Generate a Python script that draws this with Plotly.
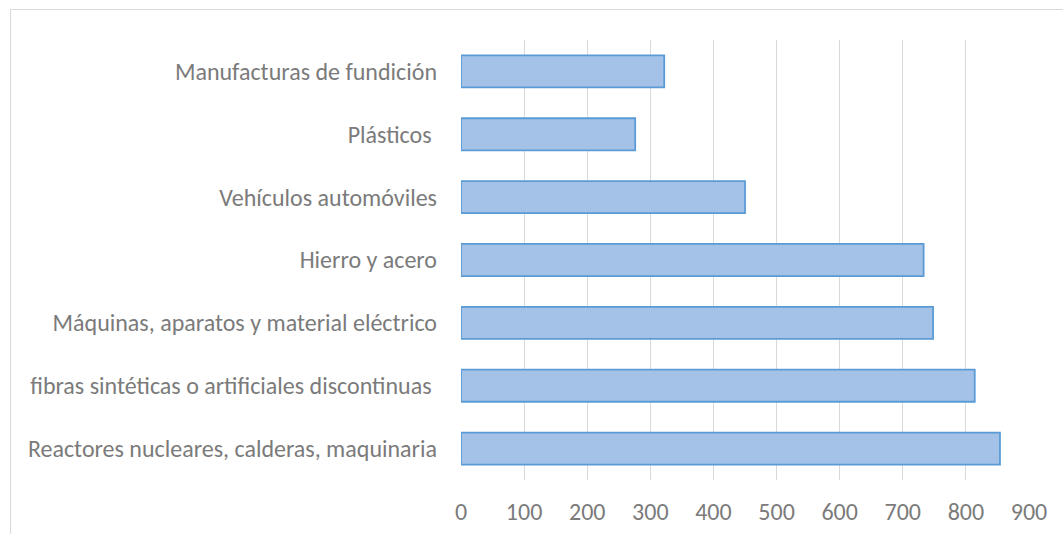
import plotly.graph_objects as go

categories = [
    "Reactores nucleares, calderas, maquinaria",
    "fibras sintéticas o artificiales discontinuas\u00a0",
    "Máquinas, aparatos y material eléctrico",
    "Hierro y acero",
    "Vehículos automóviles",
    "Plásticos\u00a0",
    "Manufacturas de fundición",
]
values = [854, 814, 748, 733, 450, 276, 322]
x_ticks = [0, 100, 200, 300, 400, 500, 600, 700, 800, 900]

W, H = 1063, 534
L, R, T, B = 461, 34, 40, 54
pw, ph = W - L - R, H - T - B

fig = go.Figure(go.Bar(
    y=categories, x=values, orientation="h",
    marker=dict(color="#a4c2e8", line=dict(color="#5b9bd5", width=1.8)),
    hoverinfo="x+y",
))

font_family = "Carlito, Lato, sans-serif"
fig.update_layout(
    width=W, height=H,
    margin=dict(l=L, r=R, t=T, b=B, pad=0, autoexpand=False),
    paper_bgcolor="white", plot_bgcolor="white",
    bargap=0.49,
    showlegend=False,
    font=dict(family=font_family, size=24, color="#7b7b7b"),
    xaxis=dict(
        range=[0, 900], tickvals=x_ticks, showgrid=True, gridcolor="#d9d9d9",
        gridwidth=1, zeroline=False, showline=False, ticks="",
        ticklabelstandoff=15, fixedrange=True, automargin=False,
    ),
    yaxis=dict(
        type="category", categoryorder="array", categoryarray=categories,
        range=[-0.5, 6.5], showgrid=False, zeroline=False, showline=False,
        ticks="", ticklabelstandoff=23, fixedrange=True, automargin=False,
    ),
    shapes=[dict(
        type="rect", xref="paper", yref="paper",
        x0=(10.5 - L) / pw, x1=(W + 20 - L) / pw,
        y0=(H - B - (H + 20)) / ph, y1=(H - B - 9.5) / ph,
        line=dict(color="#d9d9d9", width=1), fillcolor="rgba(0,0,0,0)",
        layer="below",
    )],
)

fig.write_html("out.html")
